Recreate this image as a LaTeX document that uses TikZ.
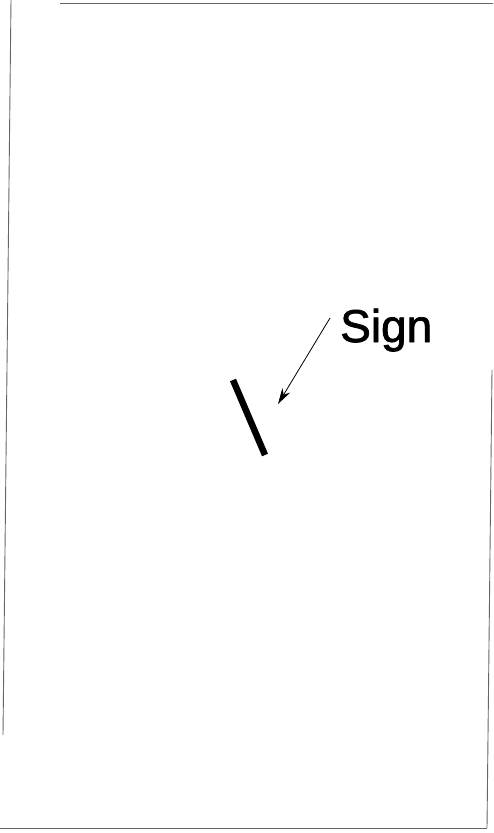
\documentclass[tikz,border=0pt]{standalone}
\usepackage{fontspec}
\setmainfont{Liberation Sans}[BoldFont=Liberation Sans,BoldFeatures={FakeBold=1.6}]
\usetikzlibrary{arrows.meta}
\begin{document}
\begin{tikzpicture}[x=1pt,y=-1pt,
  frameline/.style={draw=black!60,line width=0.9pt},
  signbar/.style={line width=6.5pt,line cap=butt},
  pointer/.style={line width=0.8pt,-{Stealth[length=16pt,width=9pt]}},
  lbl/.style={font=\fontsize{46}{50}\selectfont\bfseries,inner sep=0pt}]
\useasboundingbox (0,0) rectangle (493,833);
% scanned frame
\draw[frameline] (11,0) -- (3,735);
\draw[frameline] (60,3) -- (493,3);
\draw[frameline] (492,370) -- (487,828);
\draw[frameline] (0,828) -- (487,828);
% sign bar
\coordinate (bartop) at (233,380);
\coordinate (barbot) at (265,455);
\draw[signbar] (bartop) -- (barbot);
% label and pointer
\node[lbl,anchor=base west] (sign) at (340,342) {Sign};
\coordinate (ptrstart) at (330,318);
\coordinate (ptrtip) at (278,404);
\draw[pointer] (ptrstart) -- (ptrtip);
\end{tikzpicture}
\end{document}
